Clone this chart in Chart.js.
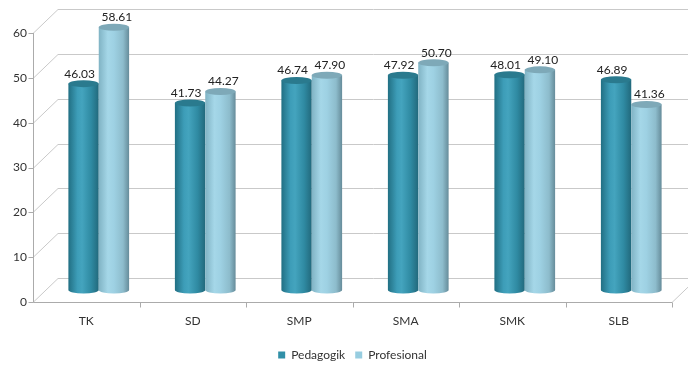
<!DOCTYPE html>
<html>
<head>
<meta charset="utf-8">
<script src="https://cdn.jsdelivr.net/npm/chart.js@4"></script>
<style>
  body { margin: 0; background: #fff; }
  #wrap { width: 688px; height: 365px; }
</style>
</head>
<body>
<div id="wrap"><canvas id="chart-kompetensi"></canvas></div>
<script>
const categories = ['TK', 'SD', 'SMP', 'SMA', 'SMK', 'SLB'];
const pedagogik = [46.03, 41.73, 46.74, 47.92, 48.01, 46.89];
const profesional = [58.61, 44.27, 47.90, 50.70, 49.10, 41.36];
const yMin = 0, yMax = 60, yStep = 10;

// depth of the fake 3d box
const DX = 25, DY = 24;

const gradStops = [
    [[0, '#216f83'], [0.3, '#3d9db8'], [0.45, '#44a4be'], [0.75, '#2f8aa2'], [1, '#22697c']],
    [[0, '#80b3c4'], [0.3, '#a5d7e8'], [0.5, '#9ed1e3'], [0.8, '#8dbccc'], [1, '#668c9a']]
];
const capColors = ['#2a7a8e', '#7ea9b8'];

function cylinder(ctx, cx, top, base, w, stops, cap) {
    const rx = w / 2, ry = 3.5;
    const g = ctx.createLinearGradient(cx - rx, 0, cx + rx, 0);
    stops.forEach(s => g.addColorStop(s[0], s[1]));
    ctx.fillStyle = g;
    ctx.beginPath();
    ctx.moveTo(cx - rx, top);
    ctx.lineTo(cx - rx, base);
    ctx.ellipse(cx, base, rx, ry, 0, Math.PI, 0, true);
    ctx.lineTo(cx + rx, top);
    ctx.closePath();
    ctx.fill();
    ctx.fillStyle = cap;
    ctx.beginPath();
    ctx.ellipse(cx, top, rx, ry, 0, 0, Math.PI * 2);
    ctx.fill();
}

const box3d = {
    id: 'box3d',
    beforeDatasetsDraw(chart) {
        const {ctx, chartArea: a, scales: {x, y}} = chart;
        ctx.save();
        ctx.lineWidth = 1;
        ctx.strokeStyle = '#c9c9c9';
        y.ticks.forEach(t => {
            const py = Math.round(y.getPixelForValue(t.value)) + 0.5;
            ctx.beginPath();
            ctx.moveTo(a.left, py);
            ctx.lineTo(a.left + DX, py - DY);
            ctx.lineTo(a.right + DX, py - DY);
            ctx.stroke();
        });
        const by = Math.round(a.bottom) + 0.5;
        ctx.beginPath();
        ctx.moveTo(a.right, by);
        ctx.lineTo(a.right + DX, by - DY);
        ctx.stroke();

        ctx.strokeStyle = '#ababab';
        const lx = Math.round(a.left) + 0.5;
        ctx.beginPath();
        ctx.moveTo(lx, a.top);
        ctx.lineTo(lx, by);
        ctx.lineTo(a.right, by);
        y.ticks.forEach(t => {
            const py = Math.round(y.getPixelForValue(t.value)) + 0.5;
            ctx.moveTo(lx - 5, py);
            ctx.lineTo(lx, py);
        });
        for (let i = 0; i < categories.length; i++) {
            let px = i < categories.length - 1
                ? (x.getPixelForValue(i) + x.getPixelForValue(i + 1)) / 2
                : a.right;
            px = Math.round(px) + 0.5;
            ctx.moveTo(px, by);
            ctx.lineTo(px, by + 5);
        }
        ctx.stroke();
        ctx.restore();
    },
    beforeDatasetDraw() {
        return false; // cylinders are drawn below
    },
    afterDatasetsDraw(chart) {
        const ctx = chart.ctx;
        ctx.save();
        ctx.font = '12px Lato';
        ctx.fillStyle = '#222';
        ctx.textAlign = 'center';
        ctx.textBaseline = 'bottom';
        for (let i = 0; i < categories.length; i++) {
            [0, 1].forEach(d => {
                const el = chart.getDatasetMeta(d).data[i];
                const cx = el.x + DX / 2;
                const top = el.y - DY / 2;
                const base = el.base - DY / 2;
                cylinder(ctx, cx, top, base, el.width, gradStops[d], capColors[d]);
            });
            [0, 1].forEach(d => {
                const el = chart.getDatasetMeta(d).data[i];
                const v = chart.data.datasets[d].data[i];
                const off = d === 0 ? -4 : 3;
                ctx.fillStyle = '#222';
                ctx.fillText(v.toFixed(2), el.x + DX / 2 + off, el.y - DY / 2 - 4);
            });
        }
        ctx.restore();
    }
};

new Chart(document.getElementById('chart-kompetensi'), {
    type: 'bar',
    data: {
        labels: categories,
        datasets: [
            {
                label: 'Pedagogik',
                data: pedagogik,
                backgroundColor: '#3190a8'
            },
            {
                label: 'Profesional',
                data: profesional,
                backgroundColor: '#97cde0'
            }
        ]
    },
    options: {
        responsive: true,
        maintainAspectRatio: false,
        animation: false,
        categoryPercentage: 0.57,
        barPercentage: 1,
        layout: {
            padding: {top: 33, right: 16, left: 0, bottom: -6}
        },
        scales: {
            x: {
                grid: {display: false, drawTicks: false},
                border: {display: false},
                ticks: {color: '#333', font: {family: 'Lato', size: 12}, padding: 12},
                afterFit: s => { s.height = 37; }
            },
            y: {
                min: yMin,
                max: yMax,
                grid: {display: false, drawTicks: false},
                border: {display: false},
                ticks: {stepSize: yStep, color: '#333', font: {family: 'Lato', size: 12}, padding: 6},
                afterFit: s => { s.width = 33; }
            }
        },
        plugins: {
            tooltip: {enabled: false},
            legend: {
                position: 'bottom',
                fullSize: false,
                labels: {
                    boxWidth: 7,
                    boxHeight: 7,
                    padding: 10,
                    color: '#333',
                    font: {family: 'Lato', size: 12}
                }
            }
        }
    },
    plugins: [box3d]
});
</script>
</body>
</html>
